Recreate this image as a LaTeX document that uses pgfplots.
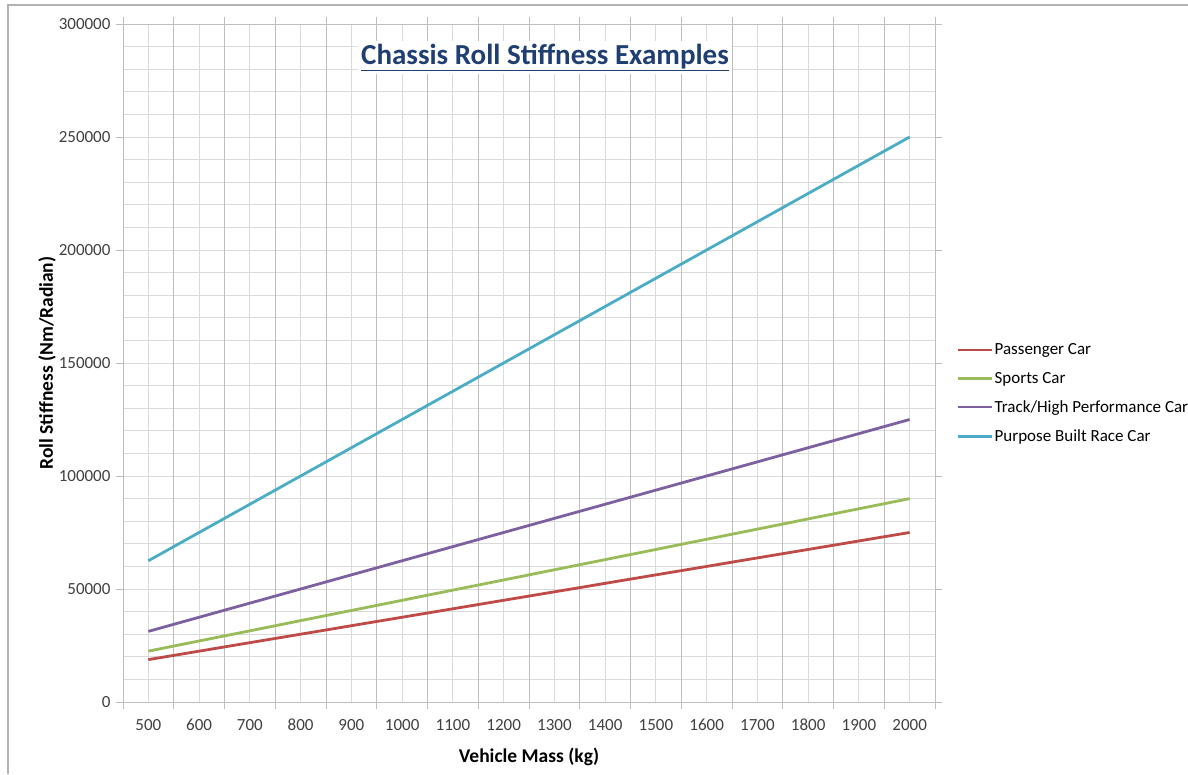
\documentclass[border=0pt]{standalone}
\usepackage{pgfplots}
\pgfplotsset{compat=1.18}
\usepackage{fontspec}
\setmainfont{Carlito}
\definecolor{cPass}{HTML}{BE4B48}
\definecolor{cSport}{HTML}{9BBB59}
\definecolor{cTrack}{HTML}{7D60A0}
\definecolor{cRace}{HTML}{4BACC6}
\definecolor{cTitle}{HTML}{1F3F73}
\definecolor{gMaj}{HTML}{BDBDBD}
\definecolor{gMin}{HTML}{DADADA}
\definecolor{tickc}{HTML}{404040}
\begin{document}
\begin{tikzpicture}[x=1pt,y=1pt]
\useasboundingbox (0,0) rectangle (1188,774);
\draw[gray!60, line width=1.5pt] (8,0) -- (8,769) -- (1188,769);
\begin{axis}[
  at={(123pt,72pt)}, anchor=south west,
  scale only axis, width=812pt, height=678pt,
  xmin=450, xmax=2050, ymin=0, ymax=300000,
  xtick={500,600,...,2000},
  major x tick style={draw=none},
  x grid style={gMin, line width=0.8pt},
  xmajorgrids=true,
  extra x ticks={450,550,...,2050},
  extra x tick labels={},
  extra x tick style={major x tick style={draw=gMaj, line width=0.8pt}, x grid style={gMaj, line width=0.8pt}, major tick length=7pt, tick align=outside},
  ytick={0,50000,...,300000},
  minor y tick num=4,
  ymajorgrids=true, yminorgrids=true,
  y grid style={gMin, line width=0.8pt},
  minor y tick style={draw=none},
  major y tick style={gMaj, line width=0.8pt},
  major tick length=7pt,
  tick align=outside,
  axis line style={gMaj, line width=0.8pt},
  scaled y ticks=false,
  yticklabel style={/pgf/number format/fixed, /pgf/number format/1000 sep={}, font=\fontsize{17}{17}\selectfont, text=tickc, xshift=-2pt},
  xticklabel style={/pgf/number format/fixed, /pgf/number format/1000 sep={}, font=\fontsize{17}{17}\selectfont, text=tickc, text height=11pt, text depth=0pt, yshift=-7pt},
  /pgf/number format/assume math mode=true,
  xlabel={\bfseries Vehicle Mass (kg)},
  ylabel={\bfseries Roll Stiffness (Nm/Radian)},
  label style={font=\fontsize{19.5}{19.5}\selectfont\bfseries, text=black},
  xlabel style={yshift=3pt},
  ylabel style={yshift=-4pt},
  legend style={at={(1.027,0.532)}, anchor=north west, draw=none, fill=none, font=\fontsize{17}{17}\selectfont, row sep=12pt, inner sep=0pt, nodes={inner xsep=1pt}},
  legend cell align=left,
  legend image code/.code={\draw[#1, line width=2.5pt] (0pt,0pt) -- (34pt,0pt);},
  every axis plot/.append style={line width=2.8pt},
  clip=false,
]
\addplot[cPass] coordinates {(500,18750) (600,22500) (700,26250) (800,30000) (900,33750) (1000,37500) (1100,41250) (1200,45000) (1300,48750) (1400,52500) (1500,56250) (1600,60000) (1700,63750) (1800,67500) (1900,71250) (2000,75000)};
\addlegendentry{Passenger Car}
\addplot[cSport] coordinates {(500,22500) (600,27000) (700,31500) (800,36000) (900,40500) (1000,45000) (1100,49500) (1200,54000) (1300,58500) (1400,63000) (1500,67500) (1600,72000) (1700,76500) (1800,81000) (1900,85500) (2000,90000)};
\addlegendentry{Sports Car}
\addplot[cTrack] coordinates {(500,31250) (600,37500) (700,43750) (800,50000) (900,56250) (1000,62500) (1100,68750) (1200,75000) (1300,81250) (1400,87500) (1500,93750) (1600,100000) (1700,106250) (1800,112500) (1900,118750) (2000,125000)};
\addlegendentry{Track/High Performance Car}
\addplot[cRace] coordinates {(500,62500) (600,75000) (700,87500) (800,100000) (900,112500) (1000,125000) (1100,137500) (1200,150000) (1300,162500) (1400,175000) (1500,187500) (1600,200000) (1700,212500) (1800,225000) (1900,237500) (2000,250000)};
\addlegendentry{Purpose Built Race Car}
\node[fill=white, inner sep=3pt, text=cTitle, font=\fontsize{29}{29}\selectfont\bfseries] at (rel axis cs:0.5197,0.951) {\underline{Chassis Roll Stiffness Examples}};
\end{axis}
\end{tikzpicture}
\end{document}
